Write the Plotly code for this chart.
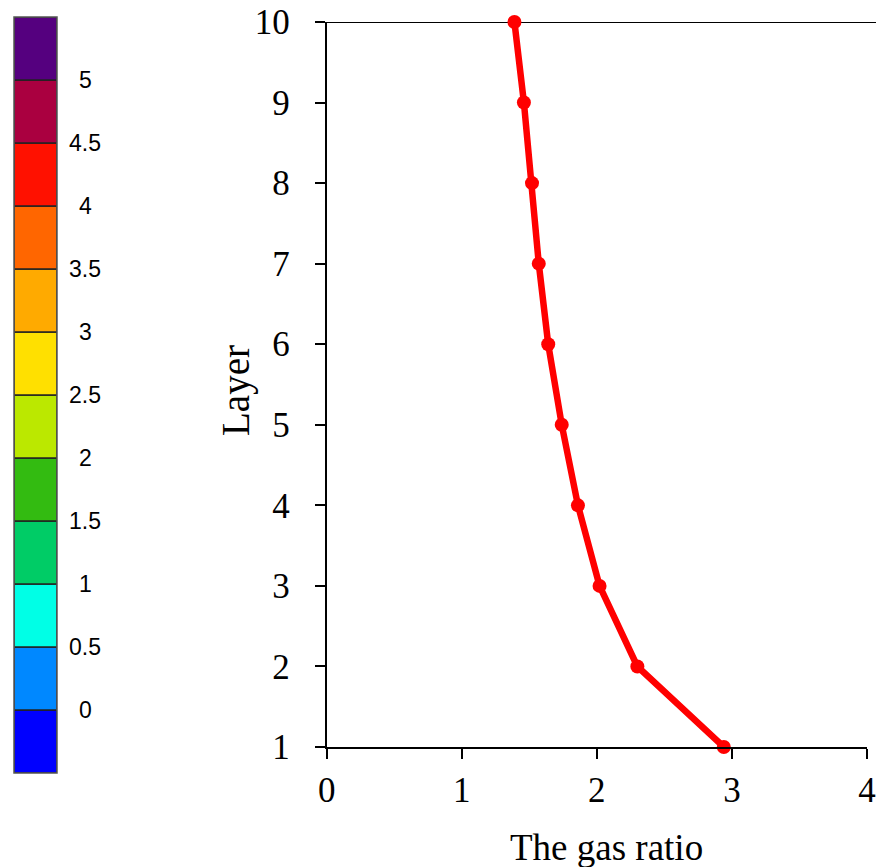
import plotly.graph_objects as go

# Data
layers = [1, 2, 3, 4, 5, 6, 7, 8, 9, 10]
gas_ratio = [2.94, 2.30, 2.02, 1.86, 1.74, 1.64, 1.57, 1.52, 1.46, 1.39]

x_ticks = [0, 1, 2, 3, 4]
y_ticks = [1, 2, 3, 4, 5, 6, 7, 8, 9, 10]

# Colour legend (bottom to top)
cb_colors = ["#0000FF", "#0088FF", "#00FFE6", "#00CC66", "#33BB11", "#BBE800",
             "#FFE000", "#FFAA00", "#FF6600", "#FF1100", "#AA0040", "#55007F"]
cb_bottoms = [-0.5, 0, 0.5, 1, 1.5, 2, 2.5, 3, 3.5, 4, 4.5, 5]
cb_heights = [0.5] * 12
cb_labels = ["0", "0.5", "1", "1.5", "2", "2.5", "3", "3.5", "4", "4.5", "5"]
cb_label_vals = [0, 0.5, 1, 1.5, 2, 2.5, 3, 3.5, 4, 4.5, 5]

W, H = 876, 867

fig = go.Figure()

fig.add_trace(go.Scatter(
    x=gas_ratio, y=layers, mode="lines+markers",
    line=dict(color="#FF0000", width=6.5),
    marker=dict(color="#FF0000", size=14),
    cliponaxis=False, showlegend=False,
))

fig.add_trace(go.Bar(
    x=[0] * len(cb_colors), y=cb_heights, base=cb_bottoms, width=1,
    marker=dict(color=cb_colors, line=dict(color="#222222", width=1.5)),
    xaxis="x2", yaxis="y2", showlegend=False, hoverinfo="skip",
))

serif = "Liberation Serif, Times New Roman, serif"

fig.update_layout(
    width=W, height=H,
    margin=dict(l=0, r=0, t=0, b=0, autoexpand=False),
    paper_bgcolor="white", plot_bgcolor="white",
    barmode="overlay",
    xaxis=dict(
        domain=[326.7 / W, 867 / W], range=[0, 4], automargin=False,
        tickvals=x_ticks, ticks="outside", ticklen=10, tickwidth=2, tickcolor="black",
        showline=True, linecolor="black", linewidth=2, showgrid=False, zeroline=False,
        ticklabelstandoff=1,
        tickfont=dict(family=serif, size=35, color="black"),
    ),
    yaxis=dict(
        domain=[1 - 747 / H, 1 - 22 / H], range=[1, 10], automargin=False,
        tickvals=y_ticks, ticks="outside", ticklen=10, tickwidth=2, tickcolor="black",
        showline=True, linecolor="black", linewidth=2, showgrid=False, zeroline=False,
        ticklabelstandoff=18,
        tickfont=dict(family=serif, size=35, color="black"),
    ),
    xaxis2=dict(domain=[14 / W, 57 / W], range=[-0.5, 0.5], anchor="y2", automargin=False,
                showticklabels=False, showgrid=False, zeroline=False, showline=False),
    yaxis2=dict(domain=[1 - 773 / H, 1 - 17 / H], range=[-0.5, 5.5], anchor="x2", automargin=False,
                showticklabels=False, showgrid=False, zeroline=False, showline=False),
    shapes=[
        dict(type="line", xref="paper", yref="y", x0=316 / W, x1=1, y0=10, y1=10,
             line=dict(color="black", width=2), layer="below"),
        dict(type="rect", xref="paper", yref="paper", x0=14 / W, x1=57 / W,
             y0=1 - 773 / H, y1=1 - 17 / H, line=dict(color="#555555", width=1.5)),
    ],
)

fig.add_annotation(x=606 / W, y=1 - 847 / H, xref="paper", yref="paper", text="The gas ratio",
                   showarrow=False, xanchor="center", yanchor="middle",
                   font=dict(family=serif, size=37, color="black"))
fig.add_annotation(x=236 / W, y=1 - 391 / H, xref="paper", yref="paper", text="Layer",
                   showarrow=False, xanchor="center", yanchor="middle", textangle=-90,
                   font=dict(family=serif, size=39, color="black"))

for v, t in zip(cb_label_vals, cb_labels):
    fig.add_annotation(x=85 / W, xref="paper", y=v, yref="y2", text=t, showarrow=False,
                       xanchor="center", yanchor="middle",
                       font=dict(family="Liberation Sans, Arial, sans-serif", size=23, color="black"))

fig.write_html("out.html", config={"displayModeBar": False},
               post_script="document.body.style.margin='0';document.body.style.overflow='hidden';")
